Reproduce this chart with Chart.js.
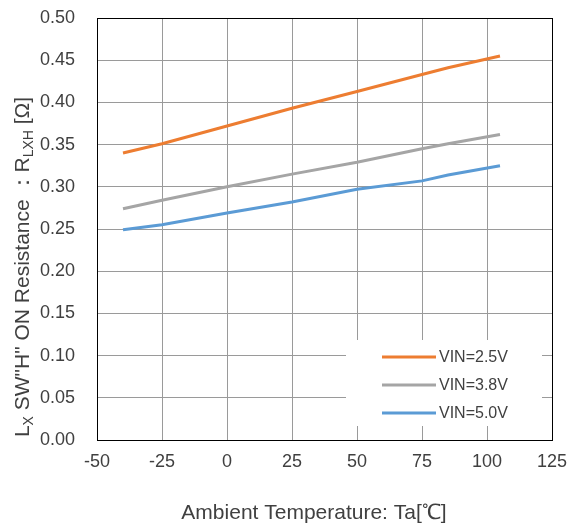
<!DOCTYPE html>
<html lang="ja">
<head>
  <meta charset="UTF-8">
  <title>Lx SW ON Resistance</title>
  <script src="https://cdn.jsdelivr.net/npm/chart.js"></script>
  <style>
    body { margin: 0; background: #fff; }
    #wrap { width: 568px; height: 526px; }
  </style>
</head>
<body>
  <div id="wrap"><canvas id="rChart" width="568" height="526"></canvas></div>

  <script>
    // temperature points (℃)
    const temps = [-40, -25, 0, 25, 50, 75, 85, 105];
    const vin25 = [0.340, 0.351, 0.372, 0.393, 0.413, 0.433, 0.441, 0.455];
    const vin38 = [0.274, 0.284, 0.300, 0.315, 0.329, 0.345, 0.351, 0.362];
    const vin50 = [0.249, 0.255, 0.269, 0.282, 0.297, 0.307, 0.314, 0.325];
    const seriesLabels = ['VIN=2.5V', 'VIN=3.8V', 'VIN=5.0V'];
    const seriesColors = ['#ED7D31', '#A5A5A5', '#5B9BD5'];

    const txtColor = '#404040';
    const fontFam = '"Liberation Sans", Arial, sans-serif';

    function toPoints(vals) {
      return temps.map((t, i) => ({ x: t, y: vals[i] }));
    }

    const datasets = [vin25, vin38, vin50].map((vals, i) => ({
      label: seriesLabels[i],
      data: toPoints(vals),
      borderColor: seriesColors[i],
      borderWidth: 3,
      pointRadius: 0,
      tension: 0,
      fill: false
    }));

    // black plot frame + legend box + axis titles
    const decor = {
      id: 'decor',
      beforeDatasetsDraw(chart) {
        const { ctx, chartArea: a } = chart;
        ctx.save();
        ctx.strokeStyle = '#000';
        ctx.lineWidth = 1;
        ctx.strokeRect(Math.round(a.left) + 0.5, Math.round(a.top) + 0.5,
          Math.round(a.right - a.left), Math.round(a.bottom - a.top));
        ctx.restore();
      },
      afterDatasetsDraw(chart) {
        const { ctx } = chart;
        ctx.save();
        // legend
        ctx.fillStyle = '#fff';
        ctx.fillRect(346, 340, 196, 86);
        ctx.font = '16px ' + fontFam;
        ctx.textBaseline = 'middle';
        chart.data.datasets.forEach((ds, i) => {
          const y = 357 + i * 28;
          ctx.strokeStyle = ds.borderColor;
          ctx.lineWidth = 3;
          ctx.beginPath();
          ctx.moveTo(382, y);
          ctx.lineTo(436, y);
          ctx.stroke();
          ctx.fillStyle = txtColor;
          ctx.textAlign = 'left';
          ctx.fillText(ds.label, 439, y + 1);
        });

        // x title
        ctx.font = '21px ' + fontFam;
        ctx.textAlign = 'center';
        ctx.textBaseline = 'middle';
        ctx.fillStyle = txtColor;
        ctx.fillText('Ambient Temperature: Ta[℃]', 314, 513);

        // y title with subscripts
        const parts = [
          { t: 'L', sub: false },
          { t: 'X', sub: true },
          { t: ' SW"H" ON Resistance ：R', sub: false },
          { t: 'LXH', sub: true },
          { t: ' [Ω]', sub: false }
        ];
        const big = '21px ' + fontFam, small = '14px ' + fontFam;
        let total = 0;
        parts.forEach(p => { ctx.font = p.sub ? small : big; p.w = ctx.measureText(p.t).width; total += p.w; });
        ctx.translate(21, 267);
        ctx.rotate(-Math.PI / 2);
        ctx.textAlign = 'left';
        ctx.textBaseline = 'alphabetic';
        let x = -total / 2;
        parts.forEach(p => {
          ctx.font = p.sub ? small : big;
          ctx.fillText(p.t, x, p.sub ? 12 : 8);
          x += p.w;
        });
        ctx.restore();
      }
    };

    new Chart(document.getElementById('rChart').getContext('2d'), {
      type: 'line',
      data: { datasets: datasets },
      options: {
        responsive: false,
        animation: false,
        layout: { padding: { left: 0, right: 16, top: 18, bottom: 0 } },
        plugins: { legend: { display: false }, tooltip: { enabled: false } },
        scales: {
          x: {
            type: 'linear',
            min: -50, max: 125,
            afterFit: s => { s.height = 86; s.paddingLeft = 0; s.paddingRight = 0; },
            ticks: { stepSize: 25, color: txtColor, padding: 11, font: { size: 18, family: fontFam }, maxRotation: 0 },
            grid: { color: '#9a9a9a', lineWidth: 1, drawTicks: false },
            border: { display: false }
          },
          y: {
            min: 0, max: 0.5,
            afterFit: s => { s.width = 97; s.paddingTop = 0; s.paddingBottom = 0; },
            ticks: { stepSize: 0.05, color: txtColor, padding: 22, font: { size: 18, family: fontFam },
              callback: v => v.toFixed(2) },
            grid: { color: '#9a9a9a', lineWidth: 1, drawTicks: false },
            border: { display: false }
          }
        }
      },
      plugins: [decor]
    });
  </script>
</body>
</html>
